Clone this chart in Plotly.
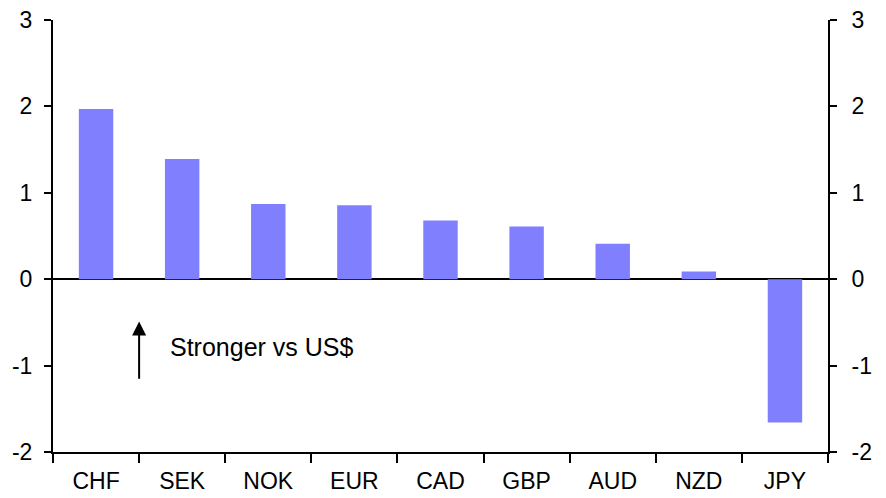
import plotly.graph_objects as go

categories = ["CHF", "SEK", "NOK", "EUR", "CAD", "GBP", "AUD", "NZD", "JPY"]
values = [1.97, 1.39, 0.87, 0.855, 0.68, 0.61, 0.41, 0.09, -1.66]
y_ticks = [-2, -1, 0, 1, 2, 3]
y_tick_labels = ["-2", "-1", "0", "1", "2", "3"]

FONT = "Liberation Sans, Arial, sans-serif"

fig = go.Figure()
fig.add_trace(go.Bar(x=categories, y=values, marker_color="#8080FF",
                     marker_line_width=0, width=0.4, showlegend=False))
fig.add_trace(go.Scatter(x=categories, y=values, yaxis="y2", mode="none",
                         showlegend=False, hoverinfo="skip"))

axis_common = dict(range=[-2, 3], tickvals=y_ticks, ticktext=y_tick_labels,
                   showgrid=False, automargin=False,
                   showline=True, linecolor="black", linewidth=2,
                   ticks="outside", ticklen=7, tickwidth=2, tickcolor="black",
                   tickfont=dict(family=FONT, size=23, color="black"))

fig.update_layout(
    width=886, height=498,
    margin=dict(l=53, r=58, t=20, b=46),
    plot_bgcolor="white", paper_bgcolor="white",
    bargap=0.6,
    xaxis=dict(type="category", showgrid=False, showline=True, linecolor="black",
               linewidth=2, ticks="outside", tickson="boundaries", ticklen=9,
               tickwidth=2, tickcolor="black", range=[-0.5, 8.5], automargin=False,
               ticklabelstandoff=7,
               tickfont=dict(family=FONT, size=23, color="black")),
    yaxis=dict(zeroline=True, zerolinecolor="black", zerolinewidth=2,
               ticklabelstandoff=7, **axis_common),
    yaxis2=dict(overlaying="y", side="right", zeroline=False,
                ticklabelstandoff=10, **axis_common),
)

fig.add_annotation(x=0.5, y=-0.49, ax=0.5, ay=-1.17, xref="x", yref="y",
                   axref="x", ayref="y", showarrow=True, arrowhead=2,
                   arrowsize=1.4, arrowwidth=2, arrowcolor="black", text="")
fig.add_annotation(x=0.84, y=-0.79, xref="x", yref="y", showarrow=False,
                   xanchor="left", yanchor="middle", text="Stronger vs US$",
                   font=dict(family=FONT, size=25, color="black"))

# remove the default 8px page margin so the figure sits at the window origin
fig.write_html("out.html", config={"displayModeBar": False},
               post_script="document.body.style.margin='0';")
